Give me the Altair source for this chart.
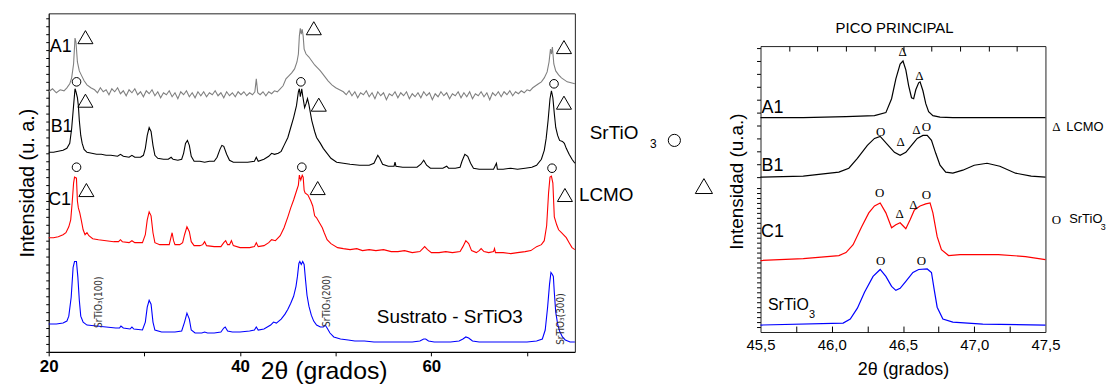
import altair as alt
import pandas as pd

FONT = "Liberation Sans"
SERIF = "Liberation Serif"
NARROW = "Liberation Sans Narrow, DejaVu Sans Condensed, Liberation Sans, sans-serif"

# ---------------- Left panel: XRD patterns, 2theta (deg) vs intensity (a.u., stacked) -------------
A1_PTS = [
    (20.0, 262), (20.4, 265), (20.8, 261), (21.2, 264), (21.6, 263), (21.9, 266), (22.2, 270),
    (22.4, 276), (22.6, 290), (22.75, 316), (22.85, 312), (23.0, 292), (23.2, 283), (23.4, 279),
    (23.7, 273), (24.0, 269), (24.4, 266), (24.8, 264),
    (25.1, 261), (25.4, 266), (25.7, 262), (26.0, 264), (26.3, 259), (26.6, 265), (26.9, 262),
    (27.2, 266), (27.5, 260), (27.8, 263), (28.1, 258), (28.4, 264), (28.7, 261), (29.0, 265),
    (29.3, 259), (29.6, 262), (29.9, 257), (30.2, 263), (30.5, 260), (30.8, 264), (31.1, 258),
    (31.4, 262), (31.7, 256), (32.0, 261), (32.3, 259), (32.6, 263), (32.9, 257), (33.2, 261),
    (33.5, 255), (33.8, 262), (34.1, 259), (34.4, 263), (34.7, 257), (35.0, 261), (35.3, 256),
    (35.6, 262), (35.9, 258), (36.2, 262), (36.5, 257), (36.8, 261), (37.1, 259), (37.4, 263),
    (37.7, 258), (38.0, 261), (38.3, 256), (38.6, 262), (38.9, 258), (39.2, 261), (39.5, 257),
    (39.8, 262), (40.1, 259), (40.4, 262), (40.7, 258), (41.0, 261), (41.3, 259), (41.55, 262),
    (41.7, 275), (41.85, 261), (42.1, 259), (42.4, 262), (42.7, 258), (43.0, 262), (43.3, 260),
    (43.6, 263), (43.9, 262), (44.2, 265), (44.5, 268), (44.8, 275), (45.1, 278), (45.4, 281),
    (45.7, 285), (45.95, 292), (46.1, 300), (46.2, 318), (46.3, 326), (46.4, 320), (46.5, 325),
    (46.6, 318), (46.7, 305), (46.9, 300), (47.2, 297), (47.5, 293), (47.8, 289), (48.1, 286),
    (48.4, 283), (48.8, 278), (49.2, 273), (49.6, 269), (50.0, 266), (50.4, 264), (50.8, 262),
    (51.1, 259), (51.4, 263), (51.7, 258), (52.0, 262), (52.3, 256), (52.6, 261), (52.9, 259),
    (53.2, 263), (53.5, 257), (53.8, 261), (54.1, 255), (54.4, 262), (54.7, 258), (55.0, 261),
    (55.3, 254), (55.6, 260), (55.9, 258), (56.2, 262), (56.5, 256), (56.8, 261), (57.1, 258),
    (57.4, 262), (57.7, 255), (58.0, 260), (58.3, 257), (58.6, 261), (58.9, 256), (59.2, 262),
    (59.5, 258), (59.8, 261), (60.1, 254), (60.4, 260), (60.7, 257), (61.0, 262), (61.3, 258),
    (61.6, 261), (61.9, 255), (62.2, 260), (62.5, 258), (62.8, 262), (63.1, 256), (63.4, 261),
    (63.7, 257), (64.0, 262), (64.3, 255), (64.6, 260), (64.9, 258), (65.2, 262), (65.5, 257),
    (65.8, 261), (66.1, 254), (66.4, 261), (66.7, 258), (67.0, 262), (67.3, 257), (67.6, 262),
    (67.9, 259), (68.2, 263), (68.5, 258), (68.8, 262), (69.1, 260), (69.4, 263), (69.7, 261),
    (70.0, 264), (70.3, 263), (70.6, 266), (70.9, 268), (71.2, 270), (71.5, 272), (71.8, 276),
    (72.1, 282), (72.3, 292), (72.45, 305), (72.55, 300), (72.65, 307), (72.8, 290), (73.0, 283),
    (73.3, 279), (73.6, 276), (73.9, 274), (74.2, 272), (74.6, 271), (75.0, 270),
]
B1_PTS = [
    (20.0, 201), (20.5, 201), (21.0, 202), (21.5, 203), (21.9, 205), (22.2, 210), (22.4, 225),
    (22.6, 248), (22.75, 265), (22.85, 262), (23.0, 256), (23.1, 248), (23.2, 233), (23.35, 218),
    (23.5, 210), (23.7, 204), (24.0, 201), (24.5, 200), (25.0, 199), (25.5, 199), (26.0, 198),
    (26.5, 198), (27.2, 197), (27.5, 199), (27.8, 197), (28.4, 196), (28.7, 198), (29.0, 196),
    (29.6, 196), (29.9, 198), (30.1, 205), (30.3, 218), (30.5, 226), (30.7, 222), (30.9, 208),
    (31.1, 198), (31.4, 195), (32.0, 194), (32.5, 194), (32.8, 196), (33.0, 194), (33.5, 193),
    (33.9, 194), (34.1, 200), (34.3, 210), (34.5, 213), (34.7, 208), (34.9, 197), (35.2, 192),
    (35.8, 192), (36.3, 191), (36.8, 192), (37.3, 192), (37.6, 196), (37.9, 204), (38.1, 208),
    (38.3, 207), (38.6, 199), (38.9, 193), (39.3, 191), (40.0, 191), (40.8, 191), (41.5, 192),
    (41.7, 196), (41.9, 192), (42.5, 194), (43.0, 197), (43.3, 200), (43.6, 199), (44.0, 200),
    (44.3, 202), (44.6, 208), (45.0, 216), (45.3, 226), (45.6, 236), (45.9, 248), (46.1, 262),
    (46.2, 265), (46.3, 257), (46.45, 265), (46.55, 258), (46.75, 246), (46.9, 250), (47.05, 255),
    (47.2, 249), (47.5, 233), (47.8, 222), (48.0, 216), (48.4, 210), (48.7, 205), (49.1, 200),
    (49.5, 195), (50.1, 191), (50.8, 190), (51.5, 189), (52.5, 188), (53.5, 188), (54.0, 190),
    (54.2, 194), (54.4, 198), (54.6, 195), (54.9, 189), (55.5, 187), (56.1, 187), (56.2, 191),
    (56.3, 187), (57.0, 186), (57.8, 186), (58.5, 186), (58.9, 189), (59.2, 193), (59.5, 188),
    (59.9, 185), (60.5, 185), (61.2, 185), (61.6, 187), (61.8, 185), (62.5, 185), (63.0, 186),
    (63.2, 192), (63.5, 199), (63.8, 197), (64.1, 190), (64.4, 185), (65.0, 184), (65.8, 184),
    (66.5, 184), (66.8, 190), (66.9, 184), (67.5, 184), (68.3, 185), (69.0, 184), (69.8, 185),
    (70.5, 186), (71.0, 188), (71.5, 194), (71.8, 203), (72.0, 215), (72.2, 233), (72.4, 255),
    (72.55, 263), (72.7, 256), (72.85, 240), (73.0, 226), (73.2, 218), (73.4, 213), (73.7, 212),
    (73.9, 210), (74.1, 205), (74.4, 199), (74.7, 194), (75.0, 190),
]
C1_PTS = [
    (20.0, 115), (20.5, 115), (21.0, 116), (21.5, 118), (21.8, 120), (22.1, 126), (22.3, 133),
    (22.45, 150), (22.6, 170), (22.7, 176), (22.9, 175), (23.0, 152), (23.1, 145), (23.25, 140),
    (23.4, 133), (23.6, 123), (23.8, 118), (24.0, 120), (24.2, 117), (24.6, 114), (25.2, 113),
    (26.0, 112), (26.8, 111), (27.3, 111), (27.5, 113), (27.7, 111), (28.4, 110), (28.7, 112),
    (29.0, 110), (29.8, 110), (30.1, 118), (30.3, 133), (30.5, 141), (30.7, 137), (30.9, 120),
    (31.1, 110), (31.6, 108), (32.2, 108), (32.6, 108), (32.75, 114), (32.9, 120), (33.05, 112),
    (33.2, 108), (33.7, 108), (34.0, 110), (34.2, 118), (34.45, 126), (34.7, 121), (34.9, 111),
    (35.2, 107), (35.8, 107), (36.1, 108), (36.3, 111), (36.5, 107), (37.3, 106), (38.0, 106),
    (38.3, 110), (38.5, 112), (38.7, 108), (38.9, 108), (39.1, 112), (39.3, 107), (40.0, 105),
    (41.0, 105), (41.5, 106), (41.7, 110), (41.9, 106), (42.5, 107), (43.0, 110), (43.3, 113),
    (43.7, 112), (44.2, 117), (44.6, 125), (45.0, 136), (45.3, 145), (45.6, 153), (45.9, 162),
    (46.1, 168), (46.2, 178), (46.35, 173), (46.5, 178), (46.6, 176), (46.7, 163), (46.8, 160),
    (47.1, 158), (47.4, 152), (47.6, 147), (47.8, 137), (48.0, 135), (48.3, 130), (48.6, 125),
    (48.8, 120), (49.1, 113), (49.5, 109), (50.2, 105), (50.8, 104), (51.5, 103), (52.2, 104),
    (52.8, 102), (53.5, 103), (54.2, 102), (55.0, 103), (55.8, 101), (56.5, 101), (57.2, 102),
    (58.0, 100), (58.8, 101), (59.1, 104), (59.3, 106), (59.6, 103), (60.0, 100), (60.8, 100),
    (61.5, 101), (62.2, 100), (63.0, 101), (63.3, 106), (63.6, 112), (63.9, 109), (64.2, 102),
    (64.7, 100), (65.0, 102), (65.2, 104), (65.5, 101), (66.0, 100), (66.5, 101), (66.6, 104),
    (66.7, 100), (67.5, 100), (68.3, 99), (69.0, 100), (69.8, 101), (70.4, 102), (71.0, 106),
    (71.5, 108), (71.8, 112), (72.05, 127), (72.25, 160), (72.4, 176), (72.55, 177), (72.7, 170),
    (72.85, 136), (73.1, 128), (73.3, 123), (73.6, 120), (73.8, 118), (74.1, 115), (74.4, 110),
    (74.7, 105), (75.0, 103),
]
SUB_PTS = [
    (20.0, 28), (20.8, 28), (21.5, 29), (21.9, 31), (22.1, 36), (22.35, 55), (22.55, 85),
    (22.7, 91), (22.9, 91), (23.05, 75), (23.2, 52), (23.35, 36), (23.6, 30), (24.0, 27),
    (25.0, 26), (26.0, 25), (27.0, 24), (27.4, 24), (27.55, 26), (27.8, 24), (28.5, 23),
    (28.7, 25), (28.9, 23), (29.8, 22), (30.1, 30), (30.3, 45), (30.5, 52), (30.7, 48),
    (30.9, 30), (31.1, 22), (31.8, 20), (32.5, 20), (33.2, 20), (33.9, 21), (34.2, 30),
    (34.45, 39), (34.7, 33), (34.9, 22), (35.3, 19), (36.0, 19), (36.3, 20), (36.6, 19),
    (37.3, 19), (38.0, 20), (38.3, 24), (38.45, 25), (38.7, 21), (39.2, 20), (40.0, 20),
    (41.0, 21), (41.5, 22), (41.7, 25), (41.9, 22), (42.5, 23), (43.2, 27), (43.5, 30),
    (43.8, 29), (44.3, 33), (44.7, 38), (45.0, 43), (45.3, 49), (45.6, 56), (45.85, 66),
    (46.0, 76), (46.15, 89), (46.25, 91), (46.4, 88), (46.55, 91), (46.7, 88), (46.85, 72),
    (47.0, 57), (47.2, 46), (47.45, 37), (47.7, 31), (48.0, 27), (48.4, 25), (48.7, 25),
    (48.9, 27), (49.1, 24), (49.4, 19), (49.8, 15), (50.5, 13), (51.3, 12), (52.0, 11),
    (53.0, 11), (54.0, 10), (55.0, 10), (56.0, 10), (57.0, 10), (58.0, 10), (58.8, 11),
    (59.2, 13), (59.4, 13), (59.7, 11), (60.3, 10), (61.0, 10), (62.0, 10), (62.9, 11),
    (63.3, 13), (63.6, 15), (63.9, 14), (64.3, 11), (65.0, 10), (66.0, 10), (67.0, 10),
    (68.0, 10), (69.0, 10), (70.0, 10), (71.0, 11), (71.6, 13), (71.9, 22), (72.15, 45),
    (72.35, 68), (72.5, 80), (72.65, 78), (72.75, 76), (72.85, 60), (73.0, 40), (73.2, 28),
    (73.4, 21), (73.7, 15), (74.0, 12), (74.5, 10), (75.0, 10),
]
LEFT_SERIES = ["A1", "B1", "C1", "Sustrato - SrTiO3"]
LEFT_COLORS = ["#808080", "#000000", "#ff0000", "#0000ff"]
LEFT_X_TICKS = [20, 30, 40, 50, 60, 70]
LEFT_Y_TICKS = list(range(0, 342, 8))

# sample labels / annotations of the left panel (2theta, intensity)
L_NAMES = ["A1", "B1", "C1"]
L_NAMES_X = [21.25, 21.35, 21.14]
L_NAMES_Y = [307, 226, 153]
L_TRI_X = [23.84, 47.71, 73.86, 23.84, 48.23, 73.86, 23.94, 48.12, 73.96]
L_TRI_Y = [317, 326, 307, 253, 249, 251, 163, 165, 158]
L_CIRC_X = [22.91, 46.36, 72.82, 22.91, 46.46, 72.61]
L_CIRC_Y = [272, 272, 270, 186, 186, 185]
L_HKL = ["SrTiO\u2083(100)", "SrTiO\u2083(200)", "SrTiO\u2083(300)"]
L_HKL_X = [25.29, 49.06, 73.55]
L_HKL_Y = [50, 51, 33]

# ---------------- Right panel: main peak detail -------------
A1R_PTS = [
    (45.5, 216), (45.8, 216), (46.1, 217), (46.3, 218), (46.38, 221), (46.42, 235), (46.45, 255),
    (46.48, 270), (46.5, 273), (46.52, 264), (46.54, 248), (46.56, 236), (46.575, 235),
    (46.59, 244), (46.61, 251), (46.62, 252), (46.64, 243), (46.66, 230), (46.68, 222),
    (46.71, 218), (46.76, 216.5), (46.85, 216), (47.2, 216), (47.5, 216),
]
B1R_PTS = [
    (45.5, 156), (45.8, 157), (46.05, 161), (46.12, 165), (46.18, 175), (46.25, 188), (46.3, 195),
    (46.34, 197), (46.39, 189), (46.44, 181), (46.48, 178), (46.52, 181), (46.56, 188),
    (46.6, 195), (46.64, 198), (46.67, 198), (46.7, 193), (46.73, 180), (46.76, 168), (46.8, 161),
    (46.85, 160), (46.92, 163), (47.0, 168), (47.09, 170), (47.18, 167), (47.29, 160),
    (47.4, 157), (47.5, 156),
]
C1R_PTS = [
    (45.5, 72), (45.8, 74), (46.05, 77), (46.1, 80), (46.15, 88), (46.21, 106), (46.26, 120),
    (46.3, 127), (46.34, 130), (46.38, 120), (46.42, 105), (46.45, 108), (46.48, 110),
    (46.5, 107), (46.52, 104), (46.55, 113), (46.58, 123), (46.62, 127), (46.66, 129),
    (46.69, 130), (46.71, 120), (46.74, 96), (46.77, 83), (46.82, 77), (46.9, 78), (47.17, 78),
    (47.36, 76), (47.5, 73),
]
STO_PTS = [
    (45.5, 7), (46.08, 9), (46.13, 13), (46.18, 24), (46.23, 40), (46.29, 56), (46.34, 63),
    (46.38, 56), (46.42, 46), (46.45, 42), (46.48, 44), (46.52, 51), (46.57, 60), (46.61, 63),
    (46.67, 63.5), (46.7, 60), (46.72, 42), (46.74, 25), (46.78, 13), (46.85, 10), (47.06, 8),
    (47.5, 7),
]
RIGHT_SERIES = ["A1 ", "B1 ", "C1 ", "SrTiO3"]
RIGHT_COLORS = ["#000000", "#000000", "#ff0000", "#0000ff"]
R_X_LABELS = [45.5, 46.0, 46.5, 47.0, 47.5]
R_TOP_TICKS = [45.7, 45.9, 46.1, 46.3, 46.5, 46.7, 46.9, 47.1, 47.3]
R_BOTTOM_TICKS = [45.75, 46.0, 46.25, 46.5, 46.75, 47.0, 47.25]
R_Y_TICKS = list(range(5, 150, 5)) + list(range(156, 289, 13))

R_NAMES = ["A1", "B1", "C1"]
R_NAMES_X = [45.584, 45.584, 45.584]
R_NAMES_Y = [226, 167, 101]
R_MARK_TXT = ["\u0394", "\u0394", "O", "\u0394", "\u0394", "O", "O", "\u0394", "\u0394", "O", "O", "O"]
R_MARK_X = [46.497, 46.615, 46.343, 46.483, 46.594, 46.664, 46.336, 46.476, 46.573, 46.664, 46.343, 46.629]
R_MARK_Y = [282, 258, 201, 191, 203, 206, 140, 119, 128, 138, 72, 72]

# ---------------- layout (pixels inside the single shared view) ----------------
VIEW_W, VIEW_H = 1004, 341          # spans both panels
LEFT_W = 530                        # left panel occupies x 0..530, y 0..341
R_X0, R_X1, R_Y0, R_Y1 = 717, 1004, 33, 321   # right panel box
FRAME = "#222222"


# ---------------- build tables ----------------
def series_frame(names, point_lists):
    rows = []
    for name, pts in zip(names, point_lists):
        for d, v in pts:
            rows.append({"deg": d, "val": v, "serie": name})
    return pd.DataFrame(rows)


def text_frame(xs, ys, texts):
    return pd.DataFrame({"deg": xs, "val": ys, "txt": texts})


left_df = series_frame(LEFT_SERIES, [A1_PTS, B1_PTS, C1_PTS, SUB_PTS])
right_df = series_frame(RIGHT_SERIES, [A1R_PTS, B1R_PTS, C1R_PTS, STO_PTS])

XL = alt.Scale(domain=[20, 75], range=[0, LEFT_W], nice=False, zero=False)
YL = alt.Scale(domain=[0, 341], range=[VIEW_H, 0], nice=False, zero=False)
XR = alt.Scale(domain=[45.5, 47.5], range=[R_X0, R_X1], nice=False, zero=False)
YR = alt.Scale(domain=[0, 288], range=[R_Y1, R_Y0], nice=False, zero=False)


def frame_axis(orient, offset=0, **kw):
    opts = dict(orient=orient, offset=offset, labels=False, ticks=False, domain=True,
                title="", grid=False, domainColor=FRAME, domainWidth=1)
    opts.update(kw)
    return alt.Axis(**opts)


def lx(axis=None):
    return alt.X("deg:Q", scale=XL, axis=axis)


def ly(axis=None):
    return alt.Y("val:Q", scale=YL, axis=axis)


def rx(axis=None):
    return alt.X("deg:Q", scale=XR, axis=axis)


def ry(axis=None):
    return alt.Y("val:Q", scale=YR, axis=axis)


def txt_layer(df, x_enc, y_enc, size, font=FONT, align="center", angle=0, color="black"):
    return alt.Chart(df).mark_text(
        font=font, fontSize=size, align=align, baseline="middle", angle=angle, color=color
    ).encode(x=x_enc, y=y_enc, text="txt:N")


# ---------------- left panel ----------------
left_lines = alt.Chart(left_df).mark_line(strokeWidth=1.1).encode(
    x=lx(alt.Axis(
        orient="bottom", title="2\u03b8 (grados)", values=LEFT_X_TICKS,
        labelExpr="datum.value % 20 == 0 ? datum.label : ''",
        labelFontWeight="bold", labelFontSize=17, labelFlush=False, tickSize=4,
        labelPadding=3, titleFontSize=25, titleBaseline="alphabetic", titleY=27,
        titleX=277, titleAlign="center", domainWidth=1.2,
    )),
    y=ly(alt.Axis(
        orient="left", title="Intensidad (u. a.)", labels=False, values=LEFT_Y_TICKS, tickSize=3,
        titleFontSize=20, titlePadding=8, domainWidth=1.2,
    )),
    color=alt.Color("serie:N", scale=alt.Scale(domain=LEFT_SERIES, range=LEFT_COLORS), legend=None),
)

# names layer also carries the top / right frame of the left panel
left_names = txt_layer(
    text_frame(L_NAMES_X, L_NAMES_Y, L_NAMES),
    lx(frame_axis("top")), ly(frame_axis("right", offset=LEFT_W - VIEW_W)), 18,
)
left_sub = txt_layer(text_frame([61.93], [35], ["Sustrato - SrTiO3"]), lx(), ly(), 19)
left_hkl = txt_layer(text_frame(L_HKL_X, L_HKL_Y, L_HKL), lx(), ly(), 10, font=NARROW, angle=270,
                     color="#333333")
left_tri = alt.Chart(pd.DataFrame({"deg": L_TRI_X, "val": L_TRI_Y})).mark_point(
    shape="triangle-up", filled=False, size=230, color="black", strokeWidth=1, opacity=1
).encode(x=lx(), y=ly())
left_circ = alt.Chart(pd.DataFrame({"deg": L_CIRC_X, "val": L_CIRC_Y})).mark_point(
    shape="circle", filled=False, size=75, color="black", strokeWidth=1, opacity=1
).encode(x=lx(), y=ly())

# legend-like notes between the panels
note_txt = txt_layer(text_frame([76.56, 75.42], [220, 158], ["SrTiO", "LCMO"]), lx(), ly(), 19,
                     align="left")
note_sub = txt_layer(text_frame([83.2], [209], ["3"]), lx(), ly(), 12)
note_circ = alt.Chart(pd.DataFrame({"deg": [85.4], "val": [213]})).mark_point(
    shape="circle", filled=False, size=150, color="black", strokeWidth=1, opacity=1
).encode(x=lx(), y=ly())
note_tri = alt.Chart(pd.DataFrame({"deg": [88.49], "val": [167]})).mark_point(
    shape="triangle-up", filled=False, size=300, color="black", strokeWidth=1, opacity=1
).encode(x=lx(), y=ly())

left = alt.layer(
    left_lines, left_names, left_sub, left_hkl, left_tri, left_circ,
    note_txt, note_sub, note_circ, note_tri,
).resolve_axis(x="independent", y="independent")

# ---------------- right panel ----------------
right_lines = alt.Chart(right_df).mark_line(strokeWidth=1.2).encode(
    x=rx(alt.Axis(
        orient="bottom", offset=R_Y1 - VIEW_H, title="2\u03b8 (grados)", values=R_X_LABELS,
        labelExpr="replace(format(datum.value, '.1f'), '.', ',')",
        ticks=False, tickSize=0, labelPadding=6, labelFontSize=15, labelFlush=False,
        titleFontSize=18, titlePadding=8, domainColor=FRAME,
    )),
    y=ry(alt.Axis(
        orient="left", offset=-R_X0, title="Intensidad (u.a.)", labels=False, values=R_Y_TICKS,
        tickSize=4, titleFontSize=19, titlePadding=10, titleY=169, domainColor=FRAME,
    )),
    color=alt.Color("serie:N", scale=alt.Scale(domain=RIGHT_SERIES, range=RIGHT_COLORS), legend=None),
)

right_names = txt_layer(
    text_frame(R_NAMES_X, R_NAMES_Y, R_NAMES),
    rx(frame_axis("top", offset=-R_Y0)), ry(frame_axis("right")), 18,
)
# inner ticks: top edge (every 0.2) and bottom edge (every 0.25)
right_marks = txt_layer(
    text_frame(R_MARK_X, R_MARK_Y, R_MARK_TXT),
    rx(alt.Axis(orient="bottom", offset=R_Y0 - VIEW_H, values=R_TOP_TICKS, labels=False,
                domain=False, ticks=True, tickSize=5, title="", grid=False)),
    ry(), 13, font=SERIF,
)
right_title = txt_layer(
    text_frame([46.441], [306], ["PICO PRINCIPAL"]),
    rx(alt.Axis(orient="top", offset=-R_Y1, values=R_BOTTOM_TICKS, labels=False,
                domain=False, ticks=True, tickSize=6, title="", grid=False)),
    ry(), 15,
)
right_sto = txt_layer(text_frame([45.695], [27], ["SrTiO"]), rx(), ry(), 16)
right_sto3 = txt_layer(text_frame([45.862], [17], ["3"]), rx(), ry(), 11)
right_key_sym = txt_layer(text_frame([47.577, 47.577], [206, 113], ["\u0394", "O"]), rx(), ry(), 13,
                          font=SERIF)
right_key_txt = txt_layer(text_frame([47.646, 47.667], [206, 114], ["LCMO", "SrTiO"]), rx(), ry(),
                          13, align="left")
right_key_sub = txt_layer(text_frame([47.905], [106], ["3"]), rx(), ry(), 9)

right = alt.layer(
    right_lines, right_names, right_marks, right_title, right_sto, right_sto3,
    right_key_sym, right_key_txt, right_key_sub,
).resolve_axis(x="independent", y="independent")

chart = (
    alt.layer(left, right)
    .resolve_scale(x="independent", y="independent", color="independent")
    .properties(width=VIEW_W, height=VIEW_H,
                padding={"left": 9, "top": 4, "right": 0, "bottom": 0})
    .configure(font=FONT)
    .configure_view(stroke="transparent")
    .configure_axis(
        domainColor="black", tickColor="black", labelColor="black", titleColor="black",
        grid=False, titleFontWeight="normal", labelFont=FONT, titleFont=FONT,
    )
)

chart.save("out.html", embed_options={"renderer": "svg", "actions": False})
